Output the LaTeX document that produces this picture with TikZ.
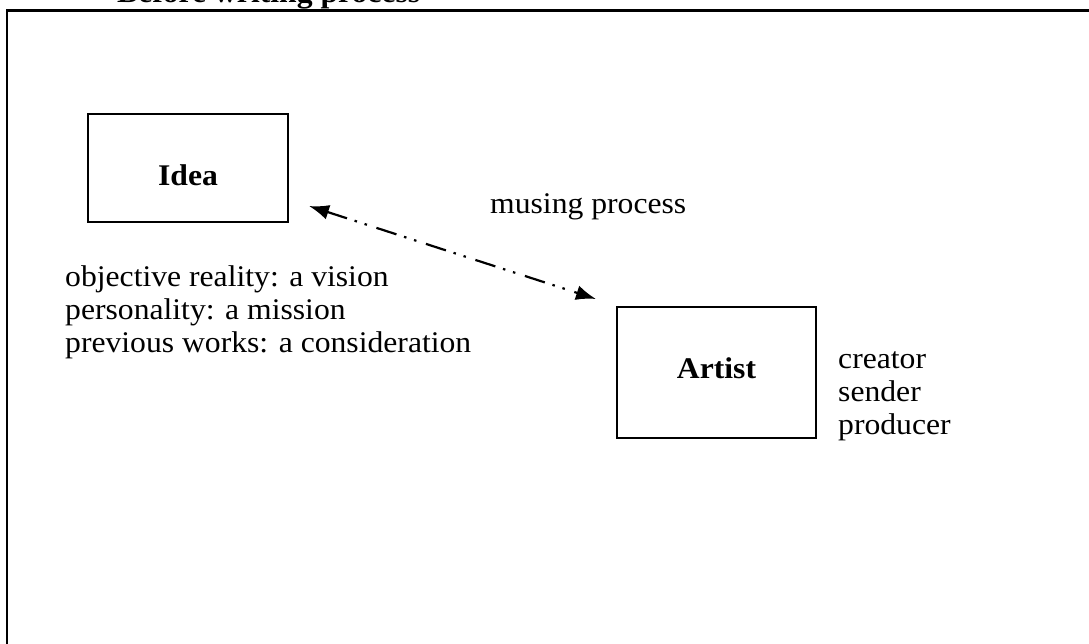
\documentclass[tikz,border=0pt]{standalone}
\usepackage{fontspec}
\setmainfont{Liberation Serif}
\usetikzlibrary{arrows.meta}
\newcommand{\hs}[1]{\scalebox{1.055}[1]{#1}}
\tikzset{
  txt/.style={inner sep=0pt, anchor=base west, font=\fontsize{30}{33}\selectfont},
  boxnode/.style={draw, line width=2pt, inner sep=0pt, font=\fontsize{30}{33}\selectfont\bfseries},
  frame/.style={draw, line width=2.5pt},
  muse/.style={line width=2.2pt, dash pattern=on 21pt off 8pt on 2.5pt off 8pt on 2.5pt off 10pt,
    {Latex[length=20pt,width=15pt]}-{Latex[length=20pt,width=15pt]}}
}
\begin{document}
\begin{tikzpicture}[x=1pt,y=-1pt]
\useasboundingbox (0,0) rectangle (1089,644);
\clip (0,0) rectangle (1089,644);
\draw[frame] (7,10.5) rectangle (1120,680);
\node[txt, font=\fontsize{30}{33}\selectfont\bfseries] (title) at (117,3) {\hs{Before writing process}};
\node[boxnode, minimum width=200pt, minimum height=108pt, text height=36pt, text depth=0pt] (idea) at (188,168) {\hs{Idea}};
\node[boxnode, minimum width=199pt, minimum height=131pt, text height=11pt, text depth=0pt] (artist) at (716.5,372.5) {\hs{Artist}};
\node[txt] (muse) at (490,214) {\hs{musing process}};
\node[txt] (idealist) at (65,287) {\hs{\begin{tabular}[t]{@{}l@{}}objective reality: a vision\\ personality: a mission\\ previous works: a consideration\end{tabular}}};
\node[txt] (roles) at (838,368) {\hs{\begin{tabular}[t]{@{}l@{}}creator\\ sender\\ producer\end{tabular}}};
\coordinate (a1) at (309,206);
\coordinate (a2) at (596,299);
\draw[muse] (a1) -- (a2);
\end{tikzpicture}
\end{document}
